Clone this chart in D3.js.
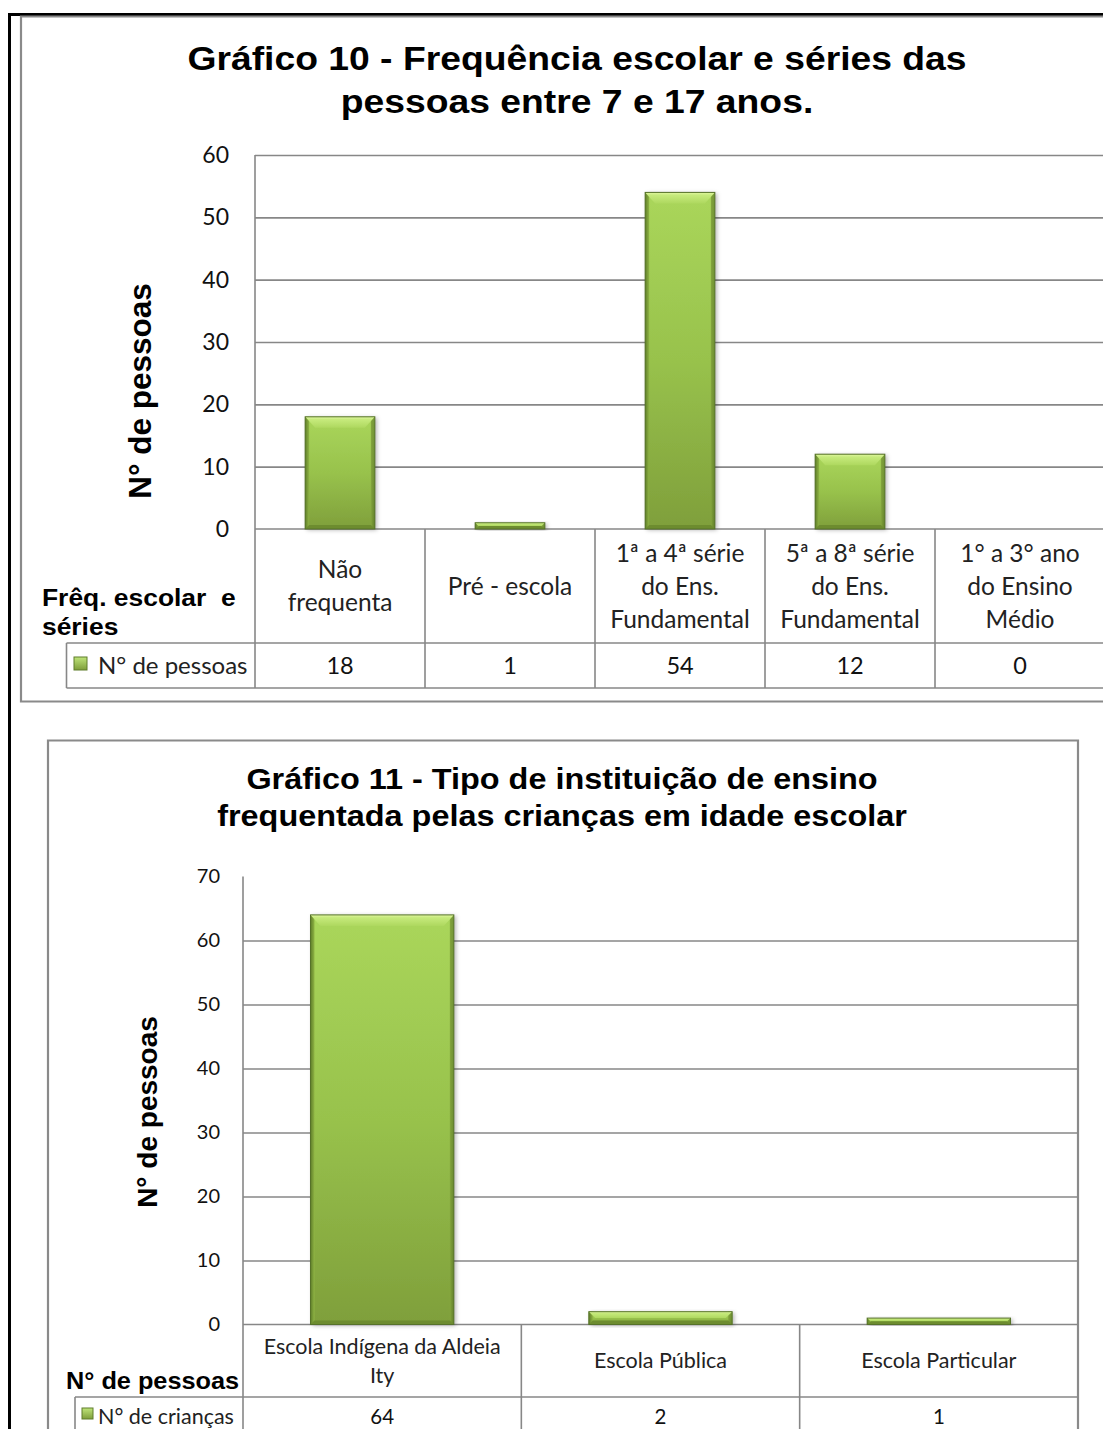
<!DOCTYPE html>
<html>
<head>
<meta charset="utf-8">
<script src="https://cdn.jsdelivr.net/npm/d3@7"></script>
<style>
  html, body { margin: 0; padding: 0; background: #fff; }
  svg { display: block; }
  text { white-space: pre; }
</style>
</head>
<body>
<script>
// ---- Gráfico 10 data ----
const title10 = ["Gráfico 10 - Frequência escolar e séries das", "pessoas entre 7 e 17 anos."];
const categories10 = ["Não\nfrequenta", "Pré - escola", "1ª a 4ª série\ndo Ens.\nFundamental", "5ª a 8ª série\ndo Ens.\nFundamental", "1° a 3° ano\ndo Ensino\nMédio"];
const values10 = [18, 1, 54, 12, 0];
const ticks10 = [0, 10, 20, 30, 40, 50, 60];
const yTitle10 = "N° de pessoas";
const rowHeader10 = "Frêq. escolar  e\nséries";
const series10 = "N° de pessoas";

// ---- Gráfico 11 data ----
const title11 = ["Gráfico 11 - Tipo de instituição de ensino", "frequentada pelas crianças em idade escolar"];
const categories11 = ["Escola Indígena da Aldeia\nIty", "Escola Pública", "Escola Particular"];
const values11 = [64, 2, 1];
const ticks11 = [0, 10, 20, 30, 40, 50, 60, 70];
const yTitle11 = "N° de pessoas";
const rowHeader11 = "N° de pessoas";
const series11 = "N° de crianças";

const W = 1103, H = 1429;
const SANS_B = "'Liberation Sans', Arial, sans-serif";
const BODY = "Lato, 'Open Sans', sans-serif";
const GRID = "#878787";

const svg = d3.select("body").append("svg").attr("width", W).attr("height", H);
const defs = svg.append("defs");

function linGrad(id, stops, vertical) {
  const g = defs.append("linearGradient").attr("id", id)
    .attr("x1", 0).attr("y1", 0).attr("x2", vertical ? 0 : 1).attr("y2", vertical ? 1 : 0);
  stops.forEach(([o, c]) => g.append("stop").attr("offset", o).attr("stop-color", c));
}
linGrad("body", [[0, "#aad65b"], [0.5, "#98c24c"], [1, "#7f9f3b"]], true);
linGrad("lside", [[0, "#5f7e29"], [1, "#8fb444"]], false);
linGrad("rside", [[0, "#86a83f"], [1, "#56732299"]], false);
linGrad("topb", [[0, "#e2f8a2"], [0.25, "#c6ea7c"], [1, "#aed85f"]], true);
linGrad("key", [[0, "#bfe57a"], [1, "#7e9d3a"]], true);

const shadow = defs.append("filter").attr("id", "shadow")
  .attr("x", "-20%").attr("y", "-20%").attr("width", "140%").attr("height", "140%");
shadow.append("feDropShadow").attr("dx", 2).attr("dy", 1).attr("stdDeviation", 2)
  .attr("flood-color", "#000").attr("flood-opacity", 0.3);

// text helper: optional horizontal stretch (sx) and rotation
function txt(p, s, x, y, o) {
  const tf = `translate(${x},${y})` + (o.rot ? ` rotate(${o.rot})` : "") + ` scale(${o.sx || 1},${o.sy || 1})`;
  return p.append("text")
    .attr("transform", tf)
    .attr("text-anchor", o.anchor || "middle")
    .attr("dy", o.dy || 0)
    .style("font-family", o.family || BODY)
    .style("font-size", o.size + "px")
    .style("font-weight", o.weight || "normal")
    .attr("fill", o.fill || "#000")
    .text(s);
}
function multiline(p, s, x, cy, lh, o) {
  const lines = s.split("\n");
  lines.forEach((l, i) => txt(p, l, x, cy + (i - (lines.length - 1) / 2) * lh, Object.assign({ dy: "0.35em" }, o)));
}
function line(p, x1, y1, x2, y2, c, w) {
  p.append("line").attr("x1", x1).attr("y1", y1).attr("x2", x2).attr("y2", y2)
    .attr("stroke", c).attr("stroke-width", w);
}

// bevelled green column
function bevelBar(p, x, y, w, h) {
  if (h <= 0) return;
  const g = p.append("g");
  g.append("rect").attr("x", x).attr("y", y).attr("width", w).attr("height", h)
    .attr("fill", "url(#body)").attr("filter", "url(#shadow)");
  const s = Math.min(4, w / 4);
  g.append("rect").attr("x", x).attr("y", y).attr("width", s).attr("height", h).attr("fill", "url(#lside)");
  g.append("rect").attr("x", x + w - s).attr("y", y).attr("width", s).attr("height", h).attr("fill", "url(#rside)");
  const tb = Math.min(11, h / 2), d = Math.min(10, tb);
  g.append("path").attr("d", `M${x},${y}H${x + w}L${x + w - d},${y + tb}H${x + d}Z`).attr("fill", "url(#topb)");
  const bb = Math.min(4, h / 2);
  g.append("path").attr("d", `M${x},${y + h}H${x + w}L${x + w - s},${y + h - bb}H${x + s}Z`).attr("fill", "#6d8c2f");
  g.append("rect").attr("x", x).attr("y", y).attr("width", w).attr("height", h)
    .attr("fill", "none").attr("stroke", "#56722a").attr("stroke-width", 1);
}

function legendKey(p, x, y, sz) {
  p.append("rect").attr("x", x).attr("y", y).attr("width", sz).attr("height", sz)
    .attr("fill", "url(#key)").attr("stroke", "#5f7d2a").attr("stroke-width", 1);
}

function drawChart(cfg) {
  const g = svg.append("g");
  const x = d3.scaleBand().domain(d3.range(cfg.categories.length)).range([cfg.left, cfg.right]);
  const y = d3.scaleLinear().domain([0, d3.max(cfg.ticks)]).range([cfg.zeroY, cfg.topY]);

  // gridlines
  const grid = g.append("g").attr("transform", `translate(${cfg.left},0)`)
    .call(d3.axisLeft(y).tickValues(cfg.gridTicks).tickSize(-(cfg.right - cfg.left)).tickFormat(""));
  grid.select(".domain").remove();
  grid.selectAll("line").attr("stroke", GRID).attr("stroke-width", 1.6);

  // tick labels
  const ax = g.append("g").attr("transform", `translate(${cfg.left},0)`)
    .call(d3.axisLeft(y).tickValues(cfg.ticks).tickSize(0).tickPadding(cfg.tickPad));
  ax.select(".domain").remove();
  ax.selectAll("text").style("font-family", BODY).style("font-size", cfg.tickSize + "px").attr("fill", "#111");

  // data table lines
  const tl = g.append("g");
  line(tl, cfg.left, cfg.topY, cfg.left, cfg.tableBottom, GRID, 1.6);
  line(tl, cfg.left, cfg.zeroY, cfg.right, cfg.zeroY, GRID, 1.6);
  line(tl, cfg.tableLeft, cfg.rowY, cfg.right, cfg.rowY, GRID, 1.6);
  line(tl, cfg.tableLeft, cfg.rowY, cfg.tableLeft, cfg.tableBottom, GRID, 1.6);
  line(tl, cfg.tableLeft, cfg.tableBottom, cfg.right, cfg.tableBottom, GRID, 1.6);
  x.domain().slice(1).forEach(i => line(tl, x(i), cfg.zeroY, x(i), cfg.tableBottom, GRID, 1.6));
  if (cfg.rightLine) line(tl, cfg.right, cfg.zeroY, cfg.right, cfg.tableBottom, GRID, 1.6);

  // bars
  const bw = x.bandwidth() * cfg.barFrac;
  cfg.values.forEach((v, i) => {
    const cx = x(i) + x.bandwidth() / 2;
    bevelBar(g, cx - bw / 2, y(v), bw, y(0) - y(v));
  });

  // category labels and values
  cfg.categories.forEach((c, i) => {
    const cx = x(i) + x.bandwidth() / 2;
    multiline(g, c, cx, (cfg.zeroY + cfg.rowY) / 2, cfg.catLH, { size: cfg.catSize, fill: "#222" });
    txt(g, String(cfg.values[i]), cx, (cfg.rowY + cfg.tableBottom) / 2, { size: cfg.valSize, dy: "0.35em", fill: "#111" });
  });

  // legend key in table
  legendKey(g, cfg.keyX, (cfg.rowY + cfg.tableBottom) / 2 - cfg.keySize / 2 + cfg.keyDy, cfg.keySize);
  txt(g, cfg.series, cfg.keyX + cfg.keySize + cfg.keyGap, (cfg.rowY + cfg.tableBottom) / 2, { size: cfg.legSize, anchor: "start", dy: "0.35em", fill: "#222" });

  // row header (bold)
  cfg.rowHeader.split("\n").forEach((l, i) =>
    txt(g, l, cfg.rhX, cfg.rhY + i * cfg.rhLH, { size: cfg.rhSize, sx: cfg.rhSx, weight: "bold", family: SANS_B, anchor: "start" }));

  // axis title
  txt(g, cfg.yTitle, cfg.ytX, cfg.ytY, { size: cfg.ytSize, weight: "bold", family: SANS_B, rot: -90, sy: cfg.ytSy });

  // chart title
  cfg.title.forEach((l, i) =>
    txt(g, l, cfg.titleX, cfg.titleY + i * cfg.titleLH, { size: cfg.titleSize, sx: cfg.titleSx, weight: "bold", family: SANS_B }));
}

// page border
line(svg, 9.5, 13, 9.5, H, "#000", 3);
line(svg, 8, 14.5, W, 14.5, "#000", 3);

// chart frames
svg.append("path").attr("d", `M${W + 5},701.5H21V16.5H${W + 5}`).attr("fill", "none").attr("stroke", "#8a8a8a").attr("stroke-width", 2.2);
svg.append("path").attr("d", `M48,${H + 5}V740.5H1078V${H + 5}`).attr("fill", "none").attr("stroke", "#8a8a8a").attr("stroke-width", 2.2);

drawChart({
  categories: categories10, values: values10, ticks: ticks10, gridTicks: ticks10.slice(1),
  title: title10, yTitle: yTitle10, rowHeader: rowHeader10, series: series10,
  left: 255, right: 1105, zeroY: 529, topY: 155, rowY: 643, tableBottom: 688, tableLeft: 66.5,
  barFrac: 0.41, tickPad: 26, tickSize: 23, catSize: 24.5, catLH: 33, valSize: 23.5, legSize: 24,
  keyX: 74, keySize: 13, keyDy: -2, keyGap: 11,
  rhX: 42, rhY: 606, rhLH: 29, rhSize: 24, rhSx: 1.1,
  ytX: 151, ytY: 391, ytSize: 31.5, ytSy: 1.0,
  titleX: 577, titleY: 70, titleLH: 43, titleSize: 33, titleSx: 1.13
});

drawChart({
  categories: categories11, values: values11, ticks: ticks11, gridTicks: ticks11.slice(1, -1),
  title: title11, yTitle: yTitle11, rowHeader: rowHeader11, series: series11,
  left: 243, right: 1078, zeroY: 1324.5, topY: 876.5, rowY: 1397, tableBottom: 1436, tableLeft: 75,
  barFrac: 0.515, tickPad: 23, tickSize: 20, catSize: 21.5, catLH: 29, valSize: 20.5, legSize: 21.5,
  keyX: 82, keySize: 11, keyDy: -3, keyGap: 5,
  rhX: 66, rhY: 1389, rhLH: 0, rhSize: 23, rhSx: 1.1,
  ytX: 157, ytY: 1112, ytSize: 28, ytSy: 1.0,
  titleX: 562, titleY: 789, titleLH: 37, titleSize: 30, titleSx: 1.08
});
</script>
</body>
</html>
